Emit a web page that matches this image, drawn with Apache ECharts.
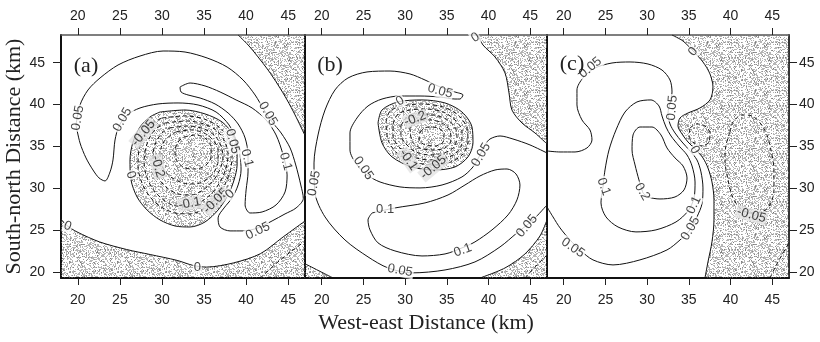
<!DOCTYPE html>
<html><head><meta charset="utf-8">
<script src="https://cdn.jsdelivr.net/npm/echarts@6/dist/echarts.min.js"></script>
<style>html,body{margin:0;padding:0;background:#fff}#c{width:820px;height:342px}</style>
</head><body><div id="c"></div>
<script>
// ---------------- data (km) ----------------
const xTicks = [20, 25, 30, 35, 40, 45];
const yTicks = [20, 25, 30, 35, 40, 45];
const xRange = [18, 47];
const yRange = [19.3, 48.3];
const panelNames = ['(a)', '(b)', '(c)'];

// ---- panel (a) ----
const a_zero_ne = [[39.05,48.3],[40.24,47.11],[41.42,45.68],[42.61,44.12],[43.80,42.34],[44.87,40.55],[45.82,38.76],[47.0,36.3]];
const a_zero_s = [[18.0,26.3],[18.8,25.5],[19.9,24.8],[22.6,23.6],[25.8,22.7],[28.6,22.1],[31.8,21.4],[33.7,20.8],[35.3,20.6],[38.5,21.1],[41.7,22.2],[44.4,24.2],[47.0,26.1]];
const a_m005_se = [[41.7,19.3],[44.0,21.4],[47.0,23.7]];
const a_p005 = [[19.78,37.56],[20.26,39.95],[21.21,41.74],[22.64,43.17],[24.78,44.72],[27.39,45.79],[30.13,46.39],[32.74,46.27],[35.36,45.56],[37.74,44.48],[39.64,42.93],[41.07,41.14],[42.14,39.35],[43.09,37.92],[44.16,36.61],[45.23,34.82],[45.9,32.79],[46.5,30.4],[46.8,28.8],[45.94,27.66],[44.63,26.95],[43.09,26.11],[41.42,25.28],[39.64,24.92],[38.09,24.92],[36.90,25.39],[36.67,26.47],[37.38,27.66],[38.33,28.85],[39.05,30.40],[39.40,32.19],[39.28,33.98],[38.81,35.77],[37.98,37.56],[36.43,39.11],[34.29,39.95],[31.91,40.19],[29.53,40.07],[27.39,39.59],[25.85,38.76],[24.90,37.44],[24.42,35.77],[24.18,33.39],[23.83,31.96],[23.23,30.88],[22.52,31.24],[21.80,32.19],[20.97,33.63],[20.26,35.42],[19.78,37.56]];
const a_p01 = [[32.15,42.10],[33.34,42.57],[35.12,42.22],[36.91,41.50],[38.81,40.55],[40.71,39.59],[42.37,38.16],[43.56,36.37],[44.40,33.98],[44.87,31.60],[44.63,29.57],[43.56,28.02],[41.90,27.18],[40.47,27.06],[39.88,28.02],[40.00,29.81],[40.23,31.96],[40.23,33.98],[39.88,36.01],[39.05,37.68],[37.86,38.99],[36.31,40.07],[34.53,40.78],[33.10,41.14],[32.27,41.50],[32.15,42.10]];
const a_zero_v = [[29.77,39.11],[32.74,39.35],[35.12,38.88],[37.14,37.92],[38.45,36.37],[38.93,34.58],[38.93,32.79],[38.57,31.00],[37.86,29.21],[36.67,27.42],[35.12,25.99],[33.34,25.39],[31.55,25.51],[29.77,26.23],[28.23,27.42],[27.04,28.97],[26.32,31.00],[26.20,33.39],[26.56,35.53],[27.39,37.32],[28.58,38.52],[29.77,39.11]];
const a_m005 = [[30.01,38.40],[32.74,38.64],[35.00,38.28],[36.79,37.32],[37.98,35.89],[38.33,34.34],[38.21,32.55],[37.62,30.76],[36.55,28.97],[35.12,27.66],[33.34,26.95],[31.55,27.06],[29.89,27.78],[28.58,28.97],[27.63,30.64],[27.16,32.55],[27.27,34.58],[27.87,36.37],[28.82,37.68],[30.01,38.40]];
const a_m010 = [[30.37,37.80],[32.98,38.04],[35.00,37.68],[36.55,36.85],[37.50,35.53],[37.86,34.10],[37.62,32.43],[36.91,30.76],[35.84,29.33],[34.41,28.26],[32.86,27.78],[31.20,28.02],[29.89,28.85],[28.82,30.05],[28.11,31.60],[27.87,33.27],[28.11,34.94],[28.70,36.37],[29.42,37.21],[30.37,37.80]];
const a_m015 = [[30.96,37.21],[33.22,37.44],[35.00,37.09],[36.31,36.25],[37.02,35.06],[37.26,33.75],[36.91,32.31],[36.07,30.88],[34.88,29.81],[33.46,29.21],[31.91,29.33],[30.60,30.05],[29.65,31.12],[29.06,32.55],[28.94,34.10],[29.30,35.53],[30.01,36.61],[30.96,37.21]];
const a_m020 = [[31.67,36.73],[33.46,36.97],[35.00,36.61],[36.07,35.77],[36.67,34.58],[36.67,33.27],[36.19,31.96],[35.24,31.00],[33.93,30.52],[32.51,30.64],[31.20,31.24],[30.25,32.19],[29.77,33.51],[29.89,34.82],[30.48,35.89],[31.67,36.73]];
const a_m025 = [[32.63,36.13],[34.05,36.37],[35.24,35.89],[35.84,34.94],[35.84,33.75],[35.24,32.79],[34.05,32.31],[32.74,32.43],[31.79,33.27],[31.55,34.46],[31.91,35.53],[32.63,36.13]];
const a_labels = [[20.0,38.4,'0.05'],[25.3,38.2,'0.05'],[27.8,36.6,'-0.05'],[29.5,32.6,'-0.2'],[26.3,31.6,'0'],[33.3,28.2,'-0.1'],[36.4,28.5,'-0.05'],[38.1,29.3,'0'],[38.4,35.6,'0.05'],[40.1,33.6,'0.1'],[42.6,38.9,'0.05'],[44.7,33.2,'0.1'],[41.4,24.9,'0.05'],[18.8,25.5,'0'],[34.2,20.6,'0']];
const a_angles = [80,60,50,-75,-70,10,45,45,-75,-75,-60,-75,25,-20,0];

// ---- panel (b) ----
const b_zero_ne = [[38.73,48.3],[39.33,47.11],[40.77,45.68],[41.97,43.77],[42.45,41.38],[42.80,39.35],[44.00,37.80],[45.56,36.61],[47.0,35.30]];
const b_zero_sw = [[18.0,21.0],[21.36,19.3]];
const b_zero_se = [[38.97,19.3],[41.97,20.50],[44.36,22.17],[46.16,24.32],[47.0,26.23]];
const b_m005_se = [[44.36,19.3],[45.80,20.86],[47.0,22.05]];
const b_p005 = [[47.0,28.02],[45.32,26.23],[43.40,24.68],[41.37,23.01],[38.37,21.22],[34.78,20.26],[30.82,19.91],[27.95,20.50],[25.55,21.82],[22.79,23.84],[20.40,26.59],[19.20,29.45],[19.08,33.03],[19.56,36.37],[20.40,39.35],[21.59,41.74],[23.15,43.17],[25.43,43.89],[28.19,44.00],[30.58,43.65],[32.38,42.93],[34.18,42.10],[35.97,41.50],[36.93,41.14],[36.57,40.66],[35.97,40.66],[34.18,40.90],[31.78,41.02],[29.38,41.02],[27.23,40.66],[25.55,39.83],[24.23,38.40],[23.39,36.61],[23.39,34.58],[24.23,32.79],[25.43,31.60],[26.99,30.76],[29.38,30.17],[31.78,30.05],[34.42,30.40],[36.81,31.36],[38.13,32.55],[38.97,33.98],[39.57,35.18],[40.17,35.89],[41.37,36.25],[42.92,35.89],[44.96,35.18],[47.0,34.22]];
const b_p01 = [[26.03,27.06],[28.78,27.66],[32.38,28.26],[35.14,29.21],[37.17,30.40],[38.97,31.48],[40.77,32.19],[42.21,32.31],[43.28,31.72],[43.76,30.40],[43.40,28.62],[42.33,26.83],[40.41,25.04],[38.37,23.61],[36.81,22.89],[34.78,22.17],[32.02,21.93],[28.78,22.53],[26.75,23.49],[25.79,25.04],[25.55,26.23],[26.03,27.06]];
const b_zero_v = [[26.75,37.80],[27.23,39.35],[29.14,40.31],[32.02,40.55],[34.78,40.19],[36.81,39.11],[38.01,37.32],[38.13,35.42],[37.53,33.75],[35.97,32.55],[33.58,32.19],[30.82,32.55],[28.43,33.75],[27.23,35.42],[26.75,37.80]];
const b_m005 = [[27.71,37.92],[28.19,39.23],[29.62,39.83],[32.02,40.07],[34.54,39.71],[36.33,38.76],[37.41,37.21],[37.53,35.53],[36.93,34.10],[35.50,33.15],[33.46,32.79],[31.06,33.15],[29.02,34.22],[27.95,35.77],[27.71,37.92]];
const b_m010 = [[28.55,37.68],[29.14,38.88],[30.58,39.35],[32.50,39.47],[34.54,39.11],[35.97,38.16],[36.81,36.85],[36.81,35.42],[36.09,34.22],[34.66,33.51],[32.98,33.39],[30.94,33.75],[29.38,34.82],[28.55,36.25],[28.55,37.68]];
const b_m015 = [[29.50,37.44],[30.10,38.40],[31.54,38.76],[33.22,38.76],[34.90,38.28],[35.97,37.32],[36.21,36.13],[35.86,34.94],[34.66,34.22],[32.98,33.98],[31.30,34.34],[30.10,35.30],[29.50,36.37],[29.50,37.44]];
const b_m020 = [[30.58,37.21],[31.42,38.04],[32.98,38.16],[34.42,37.80],[35.38,36.85],[35.50,35.77],[34.78,34.82],[33.34,34.58],[31.78,34.82],[30.82,35.65],[30.58,37.21]];
const b_m025 = [[31.78,36.73],[32.74,37.32],[33.94,37.21],[34.66,36.49],[34.54,35.53],[33.58,35.06],[32.38,35.18],[31.66,35.89],[31.78,36.73]];
const b_labels = [[38.4,48.0,'0'],[34.2,41.6,'0.05'],[29.4,40.4,'0'],[31.2,38.3,'-0.2'],[30.4,33.4,'-0.1'],[33.4,32.5,'-0.05'],[25.0,32.4,'0.05'],[19.1,30.6,'0.05'],[39.1,34.0,'0.05'],[27.6,27.5,'0.1'],[36.9,22.6,'0.1'],[44.6,25.5,'0.05'],[29.4,20.2,'0.05']];
const b_angles = [30,-15,30,20,-55,40,-55,80,60,0,20,50,-10];

// ---- panel (c) ----
const c_zero = [[32.98,48.3],[34.30,47.58],[35.50,46.39],[36.69,45.08],[37.53,43.65],[37.89,42.10],[37.53,40.55],[36.33,39.59],[34.90,38.99],[33.94,38.40],[33.70,37.44],[34.18,36.49],[34.90,35.53],[35.86,34.58],[36.69,33.63],[37.29,32.43],[37.77,30.76],[38.01,28.62],[38.01,26.23],[37.77,23.61],[37.29,21.22],[36.93,19.3]];
const c_blob = [[35.14,37.21],[35.97,37.68],[36.93,37.44],[37.53,36.61],[37.41,35.53],[36.57,35.06],[35.62,35.42],[35.02,36.25],[35.14,37.21]];
const c_p005 = [[18.0,34.46],[19.56,34.34],[21.36,34.34],[22.79,34.82],[23.39,35.77],[23.15,36.97],[22.19,38.16],[21.59,39.95],[21.59,41.74],[22.31,43.17],[23.75,44.36],[25.79,44.96],[27.95,45.08],[30.10,44.84],[31.78,44.12],[32.74,42.93],[32.98,41.50],[32.74,40.19],[32.50,38.99],[32.74,37.68],[33.34,36.61],[34.18,35.53],[35.14,34.46],[35.97,33.39],[36.45,31.96],[36.69,30.05],[36.57,28.14],[35.97,26.59],[35.14,25.04],[33.94,23.84],[32.38,22.65],[29.14,21.46],[25.91,20.86],[23.51,21.46],[21.95,22.65],[20.76,23.84],[19.56,25.28],[18.72,26.59],[18.0,27.78]];
const c_p01 = [[24.71,30.17],[24.95,32.19],[25.43,34.58],[26.27,36.97],[27.35,39.11],[28.78,40.31],[30.46,40.55],[31.42,39.83],[31.78,38.64],[32.26,37.32],[32.86,36.25],[33.82,35.06],[34.78,33.98],[35.38,32.67],[35.74,30.76],[35.62,28.85],[34.90,27.30],[33.46,25.99],[31.06,25.04],[28.66,24.80],[26.51,25.39],[25.07,26.59],[24.47,28.26],[24.71,30.17]];
const c_p02 = [[29.50,29.45],[29.02,31.00],[28.55,32.79],[28.19,34.58],[28.31,36.37],[29.14,37.32],[30.58,37.32],[31.66,36.37],[32.38,34.82],[33.34,33.63],[34.30,32.67],[34.78,31.24],[34.42,29.81],[33.34,28.97],[31.54,28.73],[30.10,28.97],[29.50,29.45]];
const c_m005 = [[39.93,36.73],[40.29,37.92],[41.37,38.76],[42.57,38.64],[43.64,37.68],[44.36,36.37],[44.84,34.58],[45.20,32.19],[45.20,29.81],[44.72,28.02],[43.76,27.18],[42.33,27.06],[41.13,27.66],[40.29,28.85],[39.69,31.00],[39.33,33.39],[39.45,35.18],[39.93,36.73]];
const c_m005_se = [[44.72,19.3],[45.68,21.22],[47.0,23.49]];
const c_labels = [[35.5,46.3,'0'],[23.2,44.4,'0.05'],[33.0,39.6,'0.05'],[35.7,34.6,'0'],[24.8,30.2,'0.1'],[29.4,29.6,'0.2'],[35.6,28.0,'0.1'],[35.2,25.2,'0.05'],[21.1,22.9,'0.05'],[42.5,26.8,'-0.05']];
const c_angles = [50,40,85,-60,-70,-60,65,60,-35,-15];

// ---------------- build ----------------
function stippleCanvas() {
  const c = document.createElement('canvas'); c.width = 48; c.height = 48;
  const g = c.getContext('2d'); let s = 987654321 >>> 0;
  g.fillStyle = 'rgba(110,110,110,0.5)';
  for (let i = 0; i < 1150; i++) {
    s = (Math.imul(s, 1103515245) + 12345) >>> 0; const x = (s >>> 16) % 48;
    s = (Math.imul(s, 1103515245) + 12345) >>> 0; const y = (s >>> 16) % 48;
    g.fillRect(x, y, 1, 1);
  }
  return c;
}
const stipple = { image: stippleCanvas(), repeat: 'repeat' };
const xMin = xRange[0], xMax = xRange[1], yMin = yRange[0], yMax = yRange[1];

const panels = [
  { contours: [[0,a_zero_ne],[0,a_zero_s],[-0.05,a_m005_se],[0.05,a_p005],[0.1,a_p01],[0,a_zero_v],[-0.05,a_m005],[-0.1,a_m010],[-0.15,a_m015],[-0.2,a_m020],[-0.25,a_m025]],
    shades: [a_zero_v, a_zero_ne.concat([[xMax,yMax]]), a_zero_s.concat([[xMax,yMin],[xMin,yMin]])],
    labels: a_labels, angles: a_angles },
  { contours: [[0,b_zero_ne],[0,b_zero_sw],[0,b_zero_se],[-0.05,b_m005_se],[0.05,b_p005],[0.1,b_p01],[0,b_zero_v],[-0.05,b_m005],[-0.1,b_m010],[-0.15,b_m015],[-0.2,b_m020],[-0.25,b_m025]],
    shades: [b_zero_v, b_zero_ne.concat([[xMax,yMax]]), b_zero_sw.concat([[xMin,yMin]]), b_zero_se.concat([[xMax,yMin]])],
    labels: b_labels, angles: b_angles },
  { contours: [[0,c_zero],[-0.05,c_blob],[0.05,c_p005],[0.1,c_p01],[0.2,c_p02],[-0.05,c_m005],[-0.05,c_m005_se]],
    shades: [c_zero.concat([[xMax,yMin],[xMax,yMax]])],
    labels: c_labels, angles: c_angles }
];

const gridLefts = [61, 305, 547], gridWidths = [244, 242, 242];
const grids = gridLefts.map((l, i) => ({ left: l, top: 35, width: gridWidths[i], height: 243 }));
const tickFont = { fontFamily: 'Liberation Sans, Arial, sans-serif', fontSize: 14, color: '#222' };
const xAxes = [], yAxes = [];
for (let i = 0; i < 3; i++) {
  const bottom = {
    gridIndex: i, type: 'value', min: xMin, max: xMax, position: 'bottom',
    axisLine: { show: true, onZero: false, lineStyle: { color: '#111', width: 2 } },
    axisTick: { show: true, customValues: xTicks, length: 7, lineStyle: { color: '#222', width: 1 } },
    axisLabel: Object.assign({ customValues: xTicks, margin: 15 }, tickFont),
    splitLine: { show: false }
  };
  if (i === 1) {
    bottom.name = 'West-east Distance (km)'; bottom.nameLocation = 'middle'; bottom.nameGap = 32;
    bottom.nameTextStyle = { fontFamily: 'Liberation Serif, Times New Roman, serif', fontSize: 22, color: '#222' };
  }
  xAxes.push(bottom);
  xAxes.push({
    gridIndex: i, type: 'value', min: xMin, max: xMax, position: 'top',
    axisLine: { show: true, onZero: false, lineStyle: { color: '#555', width: 1.5 } },
    axisTick: { show: true, customValues: xTicks, length: 7, lineStyle: { color: '#222', width: 1 } },
    axisLabel: Object.assign({ customValues: xTicks, margin: 12 }, tickFont),
    splitLine: { show: false }
  });
  const left = {
    gridIndex: i, type: 'value', min: yMin, max: yMax, position: 'left',
    axisLine: { show: true, onZero: false, lineStyle: { color: '#111', width: 2 } },
    axisTick: { show: i === 0, customValues: yTicks, length: 8, lineStyle: { color: '#222', width: 1 } },
    axisLabel: Object.assign({ show: i === 0, customValues: yTicks, margin: 16 }, tickFont),
    splitLine: { show: false }
  };
  if (i === 0) {
    left.name = 'South-north Distance (km)'; left.nameLocation = 'middle'; left.nameGap = 33;
    left.nameTextStyle = { fontFamily: 'Liberation Serif, Times New Roman, serif', fontSize: 22, color: '#222' };
  }
  yAxes.push(left);
  yAxes.push({
    gridIndex: i, type: 'value', min: yMin, max: yMax, position: 'right',
    axisLine: { show: true, onZero: false, lineStyle: { color: i === 2 ? '#333' : '#111', width: 2 } },
    axisTick: { show: i === 2, customValues: yTicks, length: 8, lineStyle: { color: '#222', width: 1 } },
    axisLabel: Object.assign({ show: i === 2, customValues: yTicks, margin: 10 }, tickFont),
    splitLine: { show: false }
  });
}

const series = [];
panels.forEach((p, i) => {
  const xi = 2 * i, yi = 2 * i;
  series.push({
    type: 'custom', xAxisIndex: xi, yAxisIndex: yi, data: [0], silent: true, z: 1, clip: true,
    renderItem: (params, api) => ({
      type: 'group',
      children: p.shades.map(poly => ({
        type: 'polygon', shape: { points: poly.map(q => api.coord(q)) },
        style: { fill: stipple, stroke: null }
      }))
    })
  });
  p.contours.forEach(([lev, pts]) => {
    series.push({
      type: 'line', xAxisIndex: xi, yAxisIndex: yi, data: pts, showSymbol: false, symbol: 'none',
      smooth: 0.3, silent: true, z: 3, animation: false,
      lineStyle: { color: '#111', width: 1, type: lev < 0 ? [4, 3] : 'solid' }
    });
  });
  series.push({
    type: 'scatter', xAxisIndex: xi, yAxisIndex: yi, symbolSize: 2, silent: true, z: 5,
    itemStyle: { color: 'rgba(0,0,0,0)' },
    data: p.labels.map((l, k) => ({
      value: [l[0], l[1]],
      label: {
        show: true, position: 'inside', formatter: l[2], rotate: p.angles[k],
        backgroundColor: l[2].charAt(0) === '-' ? '#e4e4e4' : '#fff', padding: [0, 1],
        fontFamily: 'Liberation Sans, Arial, sans-serif', fontSize: 13, color: '#111'
      }
    }))
  });
});

const panelLabelCenters = [[86, 66], [330, 65], [572, 64]];
const graphic = panelNames.map((t, i) => ({
  type: 'text', x: panelLabelCenters[i][0], y: panelLabelCenters[i][1], z: 10,
  style: { text: t, fontFamily: 'Liberation Serif, Times New Roman, serif', fontSize: 22, fill: '#222',
           align: 'center', verticalAlign: 'middle' }
}));

const chart = echarts.init(document.getElementById('c'));
chart.setOption({
  animation: false, backgroundColor: '#fff',
  grid: grids, xAxis: xAxes, yAxis: yAxes, series: series, graphic: graphic
});
</script></body></html>
